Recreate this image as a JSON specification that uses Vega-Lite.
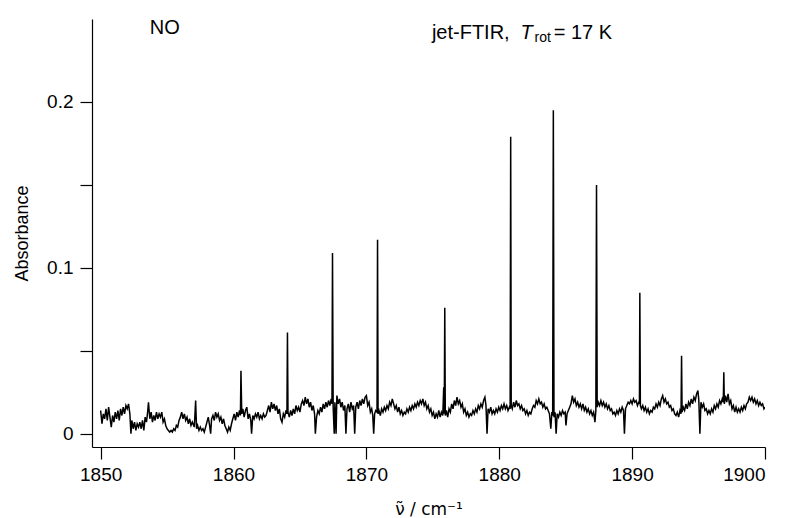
{
  "$schema": "https://vega.github.io/schema/vega-lite/v6.json",
  "width": 673,
  "height": 428,
  "autosize": {"type": "none"},
  "padding": {"left": 92, "top": 19, "right": 22, "bottom": 71},
  "background": "white",
  "config": {
    "view": {"stroke": null},
    "font": "Liberation Sans",
    "axis": {
      "grid": false,
      "domainColor": "black",
      "domainWidth": 1.2,
      "tickColor": "black",
      "tickWidth": 1.2,
      "tickSize": 12,
      "labelColor": "black",
      "labelFont": "Liberation Sans",
      "labelFontSize": 19,
      "titleColor": "black",
      "titleFont": "Liberation Sans",
      "titleFontSize": 18,
      "titleFontWeight": "normal"
    }
  },
  "layer": [
    {
      "data": {"values": [
        {"x":1850.0,"y":0.014},{"x":1850.1,"y":0.006},{"x":1850.2,"y":0.012},{"x":1850.3,"y":0.009},{"x":1850.4,"y":0.015},{"x":1850.5,"y":0.008},{"x":1850.6,"y":0.016},{"x":1850.7,"y":0.010},{"x":1850.8,"y":0.004},{"x":1850.9,"y":0.011},
        {"x":1851.0,"y":0.007},{"x":1851.1,"y":0.013},{"x":1851.2,"y":0.009},{"x":1851.3,"y":0.014},{"x":1851.4,"y":0.008},{"x":1851.5,"y":0.015},{"x":1851.6,"y":0.011},{"x":1851.7,"y":0.016},{"x":1851.8,"y":0.012},{"x":1851.9,"y":0.017},
        {"x":1852.0,"y":0.015},{"x":1852.1,"y":0.018},{"x":1852.2,"y":0.012},{"x":1852.28,"y":0.0},{"x":1852.35,"y":0.008},{"x":1852.45,"y":0.003},{"x":1852.55,"y":0.007},{"x":1852.65,"y":0.002},{"x":1852.75,"y":0.006},{"x":1852.85,"y":0.004},{"x":1852.95,"y":0.007},
        {"x":1853.05,"y":0.003},{"x":1853.15,"y":0.008},{"x":1853.25,"y":0.002},{"x":1853.35,"y":0.010},{"x":1853.45,"y":0.007},{"x":1853.55,"y":0.014},{"x":1853.6,"y":0.019},{"x":1853.7,"y":0.009},{"x":1853.8,"y":0.013},{"x":1853.9,"y":0.007},
        {"x":1854.0,"y":0.011},{"x":1854.1,"y":0.008},{"x":1854.2,"y":0.013},{"x":1854.3,"y":0.009},{"x":1854.4,"y":0.012},{"x":1854.5,"y":0.010},{"x":1854.6,"y":0.013},{"x":1854.7,"y":0.007},{"x":1854.8,"y":0.009},{"x":1854.9,"y":0.005},
        {"x":1855.0,"y":0.003},{"x":1855.1,"y":0.002},{"x":1855.2,"y":0.001},{"x":1855.3,"y":0.002},{"x":1855.4,"y":0.001},{"x":1855.5,"y":0.003},{"x":1855.6,"y":0.002},{"x":1855.7,"y":0.005},{"x":1855.8,"y":0.004},{"x":1855.9,"y":0.008},
        {"x":1856.0,"y":0.010},{"x":1856.1,"y":0.013},{"x":1856.2,"y":0.009},{"x":1856.3,"y":0.012},{"x":1856.4,"y":0.008},{"x":1856.5,"y":0.010},{"x":1856.6,"y":0.006},{"x":1856.7,"y":0.009},{"x":1856.8,"y":0.005},{"x":1856.9,"y":0.007},
        {"x":1857.05,"y":0.004},{"x":1857.15,"y":0.020},{"x":1857.22,"y":0.003},{"x":1857.3,"y":0.005},{"x":1857.4,"y":0.002},{"x":1857.5,"y":0.004},{"x":1857.6,"y":0.002},{"x":1857.7,"y":0.003},{"x":1857.8,"y":0.001},{"x":1857.9,"y":0.004},
        {"x":1858.0,"y":0.007},{"x":1858.1,"y":0.010},{"x":1858.2,"y":0.005},{"x":1858.28,"y":0.0},{"x":1858.35,"y":0.009},{"x":1858.45,"y":0.011},{"x":1858.55,"y":0.008},{"x":1858.65,"y":0.013},{"x":1858.75,"y":0.010},{"x":1858.85,"y":0.012},{"x":1858.95,"y":0.008},
        {"x":1859.05,"y":0.010},{"x":1859.15,"y":0.006},{"x":1859.25,"y":0.009},{"x":1859.35,"y":0.005},{"x":1859.45,"y":0.003},{"x":1859.55,"y":0.001},{"x":1859.65,"y":0.004},{"x":1859.75,"y":0.002},{"x":1859.85,"y":0.006},{"x":1859.95,"y":0.009},
        {"x":1860.05,"y":0.012},{"x":1860.15,"y":0.008},{"x":1860.25,"y":0.013},{"x":1860.35,"y":0.010},{"x":1860.45,"y":0.014},{"x":1860.52,"y":0.011},{"x":1860.56,"y":0.038},{"x":1860.62,"y":0.012},{"x":1860.7,"y":0.015},{"x":1860.8,"y":0.010},{"x":1860.9,"y":0.014},
        {"x":1861.0,"y":0.016},{"x":1861.1,"y":0.009},{"x":1861.2,"y":0.012},{"x":1861.3,"y":0.008},{"x":1861.36,"y":0.0},{"x":1861.45,"y":0.011},{"x":1861.55,"y":0.009},{"x":1861.65,"y":0.012},{"x":1861.75,"y":0.010},{"x":1861.85,"y":0.013},{"x":1861.95,"y":0.009},
        {"x":1862.05,"y":0.011},{"x":1862.15,"y":0.009},{"x":1862.25,"y":0.012},{"x":1862.35,"y":0.010},{"x":1862.45,"y":0.011},{"x":1862.55,"y":0.014},{"x":1862.65,"y":0.017},{"x":1862.75,"y":0.013},{"x":1862.85,"y":0.019},{"x":1862.95,"y":0.015},
        {"x":1863.05,"y":0.018},{"x":1863.15,"y":0.014},{"x":1863.25,"y":0.017},{"x":1863.35,"y":0.012},{"x":1863.45,"y":0.015},{"x":1863.55,"y":0.009},{"x":1863.65,"y":0.007},{"x":1863.75,"y":0.012},{"x":1863.85,"y":0.010},{"x":1863.95,"y":0.014},
        {"x":1864.02,"y":0.012},{"x":1864.06,"y":0.061},{"x":1864.1,"y":0.013},{"x":1864.2,"y":0.010},{"x":1864.3,"y":0.014},{"x":1864.4,"y":0.011},{"x":1864.5,"y":0.015},{"x":1864.6,"y":0.012},{"x":1864.7,"y":0.017},{"x":1864.8,"y":0.014},{"x":1864.9,"y":0.016},
        {"x":1865.0,"y":0.013},{"x":1865.1,"y":0.018},{"x":1865.2,"y":0.020},{"x":1865.3,"y":0.017},{"x":1865.4,"y":0.022},{"x":1865.5,"y":0.018},{"x":1865.6,"y":0.021},{"x":1865.7,"y":0.016},{"x":1865.8,"y":0.019},{"x":1865.9,"y":0.014},
        {"x":1866.0,"y":0.017},{"x":1866.1,"y":0.012},{"x":1866.16,"y":0.0},{"x":1866.25,"y":0.010},{"x":1866.35,"y":0.014},{"x":1866.45,"y":0.012},{"x":1866.55,"y":0.016},{"x":1866.65,"y":0.013},{"x":1866.75,"y":0.018},{"x":1866.85,"y":0.015},{"x":1866.95,"y":0.019},
        {"x":1867.05,"y":0.016},{"x":1867.15,"y":0.020},{"x":1867.25,"y":0.017},{"x":1867.35,"y":0.021},{"x":1867.41,"y":0.018},{"x":1867.45,"y":0.109},{"x":1867.5,"y":0.016},{"x":1867.58,"y":0.0},{"x":1867.63,"y":0.019},{"x":1867.72,"y":0.0},{"x":1867.78,"y":0.023},{"x":1867.88,"y":0.018},{"x":1867.98,"y":0.021},
        {"x":1868.08,"y":0.016},{"x":1868.18,"y":0.019},{"x":1868.28,"y":0.014},{"x":1868.38,"y":0.017},{"x":1868.46,"y":0.0},{"x":1868.54,"y":0.015},{"x":1868.64,"y":0.018},{"x":1868.74,"y":0.013},{"x":1868.84,"y":0.019},{"x":1868.94,"y":0.015},
        {"x":1869.04,"y":0.017},{"x":1869.12,"y":0.0},{"x":1869.2,"y":0.016},{"x":1869.3,"y":0.019},{"x":1869.4,"y":0.015},{"x":1869.5,"y":0.020},{"x":1869.6,"y":0.017},{"x":1869.7,"y":0.021},{"x":1869.8,"y":0.018},{"x":1869.9,"y":0.022},
        {"x":1870.0,"y":0.023},{"x":1870.1,"y":0.017},{"x":1870.2,"y":0.019},{"x":1870.3,"y":0.013},{"x":1870.4,"y":0.015},{"x":1870.48,"y":0.011},{"x":1870.55,"y":0.0},{"x":1870.62,"y":0.012},{"x":1870.7,"y":0.014},{"x":1870.8,"y":0.013},{"x":1870.84,"y":0.117},{"x":1870.88,"y":0.012},{"x":1870.95,"y":0.014},
        {"x":1871.05,"y":0.011},{"x":1871.15,"y":0.015},{"x":1871.25,"y":0.013},{"x":1871.35,"y":0.016},{"x":1871.45,"y":0.014},{"x":1871.55,"y":0.017},{"x":1871.65,"y":0.015},{"x":1871.75,"y":0.019},{"x":1871.85,"y":0.017},{"x":1871.95,"y":0.021},
        {"x":1872.05,"y":0.018},{"x":1872.15,"y":0.015},{"x":1872.25,"y":0.017},{"x":1872.35,"y":0.013},{"x":1872.45,"y":0.016},{"x":1872.55,"y":0.012},{"x":1872.65,"y":0.014},{"x":1872.75,"y":0.011},{"x":1872.85,"y":0.013},{"x":1872.95,"y":0.012},
        {"x":1873.05,"y":0.015},{"x":1873.15,"y":0.013},{"x":1873.25,"y":0.016},{"x":1873.35,"y":0.014},{"x":1873.45,"y":0.017},{"x":1873.55,"y":0.015},{"x":1873.65,"y":0.018},{"x":1873.75,"y":0.016},{"x":1873.85,"y":0.019},{"x":1873.95,"y":0.017},
        {"x":1874.05,"y":0.020},{"x":1874.15,"y":0.018},{"x":1874.25,"y":0.021},{"x":1874.35,"y":0.017},{"x":1874.45,"y":0.019},{"x":1874.55,"y":0.015},{"x":1874.65,"y":0.017},{"x":1874.75,"y":0.013},{"x":1874.85,"y":0.015},{"x":1874.95,"y":0.011},
        {"x":1875.05,"y":0.013},{"x":1875.15,"y":0.009},{"x":1875.25,"y":0.012},{"x":1875.35,"y":0.010},{"x":1875.45,"y":0.014},{"x":1875.55,"y":0.010},{"x":1875.65,"y":0.013},{"x":1875.75,"y":0.011},{"x":1875.82,"y":0.028},{"x":1875.86,"y":0.012},{"x":1875.9,"y":0.076},{"x":1875.94,"y":0.011},
        {"x":1876.02,"y":0.014},{"x":1876.12,"y":0.010},{"x":1876.22,"y":0.015},{"x":1876.32,"y":0.013},{"x":1876.42,"y":0.018},{"x":1876.52,"y":0.015},{"x":1876.62,"y":0.020},{"x":1876.72,"y":0.017},{"x":1876.82,"y":0.022},{"x":1876.92,"y":0.018},
        {"x":1877.02,"y":0.020},{"x":1877.12,"y":0.016},{"x":1877.22,"y":0.018},{"x":1877.32,"y":0.013},{"x":1877.42,"y":0.015},{"x":1877.52,"y":0.011},{"x":1877.62,"y":0.013},{"x":1877.72,"y":0.010},{"x":1877.82,"y":0.012},{"x":1877.92,"y":0.011},
        {"x":1878.02,"y":0.014},{"x":1878.12,"y":0.012},{"x":1878.22,"y":0.015},{"x":1878.32,"y":0.013},{"x":1878.42,"y":0.017},{"x":1878.52,"y":0.015},{"x":1878.62,"y":0.018},{"x":1878.72,"y":0.016},{"x":1878.82,"y":0.020},{"x":1878.92,"y":0.022},
        {"x":1879.0,"y":0.017},{"x":1879.08,"y":0.0},{"x":1879.16,"y":0.015},{"x":1879.26,"y":0.013},{"x":1879.36,"y":0.016},{"x":1879.46,"y":0.012},{"x":1879.56,"y":0.014},{"x":1879.66,"y":0.012},{"x":1879.76,"y":0.015},{"x":1879.86,"y":0.013},{"x":1879.96,"y":0.016},
        {"x":1880.06,"y":0.014},{"x":1880.16,"y":0.017},{"x":1880.26,"y":0.015},{"x":1880.36,"y":0.018},{"x":1880.46,"y":0.015},{"x":1880.56,"y":0.017},{"x":1880.66,"y":0.014},{"x":1880.76,"y":0.016},{"x":1880.82,"y":0.015},{"x":1880.86,"y":0.179},{"x":1880.9,"y":0.017},{"x":1880.98,"y":0.015},
        {"x":1881.08,"y":0.019},{"x":1881.18,"y":0.016},{"x":1881.28,"y":0.020},{"x":1881.38,"y":0.017},{"x":1881.48,"y":0.018},{"x":1881.58,"y":0.015},{"x":1881.68,"y":0.017},{"x":1881.78,"y":0.014},{"x":1881.88,"y":0.015},{"x":1881.98,"y":0.012},
        {"x":1882.08,"y":0.014},{"x":1882.18,"y":0.011},{"x":1882.28,"y":0.013},{"x":1882.38,"y":0.012},{"x":1882.48,"y":0.015},{"x":1882.58,"y":0.017},{"x":1882.68,"y":0.016},{"x":1882.78,"y":0.020},{"x":1882.88,"y":0.018},{"x":1882.98,"y":0.021},
        {"x":1883.08,"y":0.018},{"x":1883.18,"y":0.019},{"x":1883.28,"y":0.016},{"x":1883.38,"y":0.018},{"x":1883.48,"y":0.015},{"x":1883.58,"y":0.016},{"x":1883.68,"y":0.014},{"x":1883.78,"y":0.012},{"x":1883.88,"y":0.003},{"x":1883.96,"y":0.013},
        {"x":1884.02,"y":0.011},{"x":1884.07,"y":0.195},{"x":1884.12,"y":0.010},{"x":1884.2,"y":0.013},{"x":1884.28,"y":0.0},{"x":1884.36,"y":0.012},{"x":1884.46,"y":0.010},{"x":1884.56,"y":0.013},{"x":1884.66,"y":0.011},{"x":1884.76,"y":0.014},{"x":1884.86,"y":0.012},{"x":1884.96,"y":0.013},
        {"x":1885.02,"y":0.005},{"x":1885.1,"y":0.012},{"x":1885.2,"y":0.014},{"x":1885.3,"y":0.016},{"x":1885.4,"y":0.018},{"x":1885.5,"y":0.023},{"x":1885.6,"y":0.019},{"x":1885.7,"y":0.021},{"x":1885.8,"y":0.017},{"x":1885.9,"y":0.019},
        {"x":1886.0,"y":0.016},{"x":1886.1,"y":0.018},{"x":1886.2,"y":0.015},{"x":1886.3,"y":0.018},{"x":1886.4,"y":0.014},{"x":1886.5,"y":0.016},{"x":1886.6,"y":0.013},{"x":1886.7,"y":0.015},{"x":1886.8,"y":0.012},{"x":1886.9,"y":0.014},
        {"x":1887.0,"y":0.011},{"x":1887.1,"y":0.013},{"x":1887.2,"y":0.007},{"x":1887.27,"y":0.014},{"x":1887.32,"y":0.150},{"x":1887.37,"y":0.016},{"x":1887.45,"y":0.019},{"x":1887.55,"y":0.017},{"x":1887.65,"y":0.020},{"x":1887.75,"y":0.017},{"x":1887.85,"y":0.019},{"x":1887.95,"y":0.016},
        {"x":1888.05,"y":0.018},{"x":1888.15,"y":0.015},{"x":1888.25,"y":0.017},{"x":1888.35,"y":0.014},{"x":1888.45,"y":0.015},{"x":1888.55,"y":0.012},{"x":1888.65,"y":0.013},{"x":1888.75,"y":0.011},{"x":1888.85,"y":0.014},{"x":1888.95,"y":0.012},
        {"x":1889.05,"y":0.015},{"x":1889.15,"y":0.013},{"x":1889.25,"y":0.016},{"x":1889.35,"y":0.014},{"x":1889.42,"y":0.0},{"x":1889.5,"y":0.015},{"x":1889.6,"y":0.017},{"x":1889.7,"y":0.019},{"x":1889.8,"y":0.018},{"x":1889.9,"y":0.020},
        {"x":1890.0,"y":0.018},{"x":1890.1,"y":0.021},{"x":1890.2,"y":0.019},{"x":1890.3,"y":0.020},{"x":1890.4,"y":0.017},{"x":1890.5,"y":0.019},{"x":1890.55,"y":0.018},{"x":1890.58,"y":0.085},{"x":1890.62,"y":0.017},{"x":1890.7,"y":0.015},{"x":1890.8,"y":0.017},{"x":1890.9,"y":0.014},
        {"x":1891.0,"y":0.016},{"x":1891.1,"y":0.013},{"x":1891.2,"y":0.015},{"x":1891.3,"y":0.012},{"x":1891.4,"y":0.014},{"x":1891.5,"y":0.013},{"x":1891.6,"y":0.016},{"x":1891.7,"y":0.015},{"x":1891.8,"y":0.018},{"x":1891.9,"y":0.016},
        {"x":1892.0,"y":0.019},{"x":1892.1,"y":0.017},{"x":1892.2,"y":0.021},{"x":1892.3,"y":0.023},{"x":1892.4,"y":0.019},{"x":1892.5,"y":0.021},{"x":1892.6,"y":0.018},{"x":1892.7,"y":0.019},{"x":1892.8,"y":0.016},{"x":1892.9,"y":0.017},
        {"x":1893.0,"y":0.014},{"x":1893.1,"y":0.015},{"x":1893.2,"y":0.012},{"x":1893.3,"y":0.011},{"x":1893.4,"y":0.013},{"x":1893.5,"y":0.010},{"x":1893.6,"y":0.014},{"x":1893.68,"y":0.012},{"x":1893.72,"y":0.047},{"x":1893.76,"y":0.013},{"x":1893.85,"y":0.016},{"x":1893.95,"y":0.014},
        {"x":1894.05,"y":0.018},{"x":1894.15,"y":0.015},{"x":1894.25,"y":0.019},{"x":1894.35,"y":0.017},{"x":1894.45,"y":0.021},{"x":1894.55,"y":0.018},{"x":1894.65,"y":0.022},{"x":1894.75,"y":0.020},{"x":1894.85,"y":0.024},{"x":1894.95,"y":0.026},
        {"x":1895.02,"y":0.020},{"x":1895.1,"y":0.0},{"x":1895.18,"y":0.019},{"x":1895.28,"y":0.016},{"x":1895.38,"y":0.018},{"x":1895.48,"y":0.014},{"x":1895.58,"y":0.015},{"x":1895.68,"y":0.012},{"x":1895.78,"y":0.014},{"x":1895.88,"y":0.012},{"x":1895.98,"y":0.015},
        {"x":1896.08,"y":0.013},{"x":1896.18,"y":0.017},{"x":1896.28,"y":0.015},{"x":1896.38,"y":0.018},{"x":1896.48,"y":0.016},{"x":1896.58,"y":0.020},{"x":1896.68,"y":0.018},{"x":1896.78,"y":0.021},{"x":1896.86,"y":0.019},{"x":1896.9,"y":0.037},{"x":1896.94,"y":0.018},
        {"x":1897.02,"y":0.023},{"x":1897.12,"y":0.019},{"x":1897.22,"y":0.024},{"x":1897.32,"y":0.018},{"x":1897.42,"y":0.020},{"x":1897.52,"y":0.015},{"x":1897.62,"y":0.017},{"x":1897.72,"y":0.013},{"x":1897.82,"y":0.016},{"x":1897.92,"y":0.013},
        {"x":1898.02,"y":0.015},{"x":1898.12,"y":0.013},{"x":1898.22,"y":0.016},{"x":1898.32,"y":0.014},{"x":1898.42,"y":0.017},{"x":1898.52,"y":0.015},{"x":1898.62,"y":0.018},{"x":1898.72,"y":0.019},{"x":1898.82,"y":0.022},{"x":1898.92,"y":0.020},
        {"x":1899.02,"y":0.022},{"x":1899.12,"y":0.019},{"x":1899.22,"y":0.021},{"x":1899.32,"y":0.018},{"x":1899.42,"y":0.020},{"x":1899.52,"y":0.017},{"x":1899.62,"y":0.019},{"x":1899.72,"y":0.017},{"x":1899.82,"y":0.018},{"x":1899.92,"y":0.015},{"x":1900.0,"y":0.016}
      ]},
      "mark": {"type": "line", "color": "black", "strokeWidth": 1.5, "clip": true},
      "encoding": {
        "x": {
          "field": "x", "type": "quantitative",
          "scale": {"domain": [1849.35, 1900], "nice": false, "zero": false},
          "axis": {
            "values": [1850, 1860, 1870, 1880, 1890, 1900],
            "format": "d",
            "labelPadding": 6,
            "title": "ν̃ / cm⁻¹",
            "titleFont": "DejaVu Sans",
            "titleFontSize": 17,
            "titlePadding": 17
          }
        },
        "y": {
          "field": "y", "type": "quantitative",
          "scale": {"domain": [-0.008, 0.25], "nice": false, "zero": false},
          "axis": {
            "values": [0, 0.05, 0.1, 0.15, 0.2],
            "format": ".2~f",
            "labelExpr": "(abs(datum.value - 0.05) < 0.001 || abs(datum.value - 0.15) < 0.001) ? '' : datum.label",
            "labelPadding": 7,
            "title": "Absorbance",
            "titlePadding": 15
          }
        }
      }
    },
    {
      "data": {"values": [
        {"x": 1853.7, "y": 0.2407, "t": "NO"},
        {"x": 1874.93, "y": 0.238, "t": "jet-FTIR,"},
        {"x": 1884.1, "y": 0.238, "t": "= 17 K"}
      ]},
      "mark": {"type": "text", "align": "left", "baseline": "alphabetic", "fontSize": 20, "color": "black", "font": "Liberation Sans"},
      "encoding": {
        "x": {"field": "x", "type": "quantitative"},
        "y": {"field": "y", "type": "quantitative"},
        "text": {"field": "t"}
      }
    },
    {
      "data": {"values": [
        {"x": 1881.6, "y": 0.238, "t": "T"}
      ]},
      "mark": {"type": "text", "align": "left", "baseline": "alphabetic", "fontSize": 20, "fontStyle": "italic", "color": "black", "font": "Liberation Sans"},
      "encoding": {
        "x": {"field": "x", "type": "quantitative"},
        "y": {"field": "y", "type": "quantitative"},
        "text": {"field": "t"}
      }
    },
    {
      "data": {"values": [
        {"x": 1882.65, "y": 0.2362, "t": "rot"}
      ]},
      "mark": {"type": "text", "align": "left", "baseline": "alphabetic", "fontSize": 14, "color": "black", "font": "Liberation Sans"},
      "encoding": {
        "x": {"field": "x", "type": "quantitative"},
        "y": {"field": "y", "type": "quantitative"},
        "text": {"field": "t"}
      }
    }
  ]
}
